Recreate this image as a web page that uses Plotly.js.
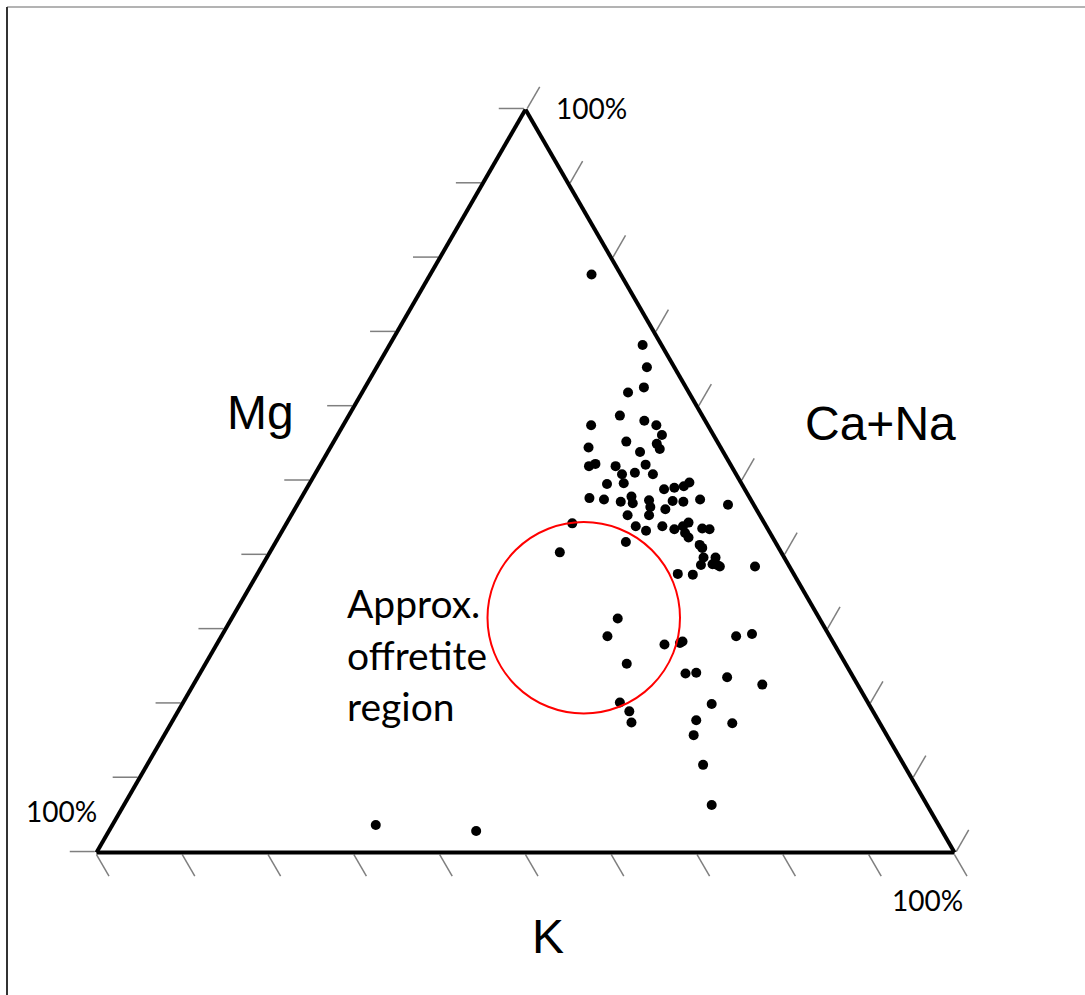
<!DOCTYPE html>
<html>
<head>
<meta charset="utf-8">
<script src="https://cdn.plot.ly/plotly-3.0.1.min.js"></script>
<style>
  html, body { margin: 0; padding: 0; background: #ffffff; }
  #chart { width: 1085px; height: 995px; }
</style>
</head>
<body>
<div id="chart"></div>
<script>
// Ternary composition (percent). a = Mg (top), b = K (bottom-left), c = Ca+Na (bottom-right)
const mg = [77.8,68.3,65.3,61.9,62.6,58.8,57.5,58.1,57.5,56.2,54.5,55.3,55.0,54.3,53.9,52.0,52.3,52.0,52.2,51.1,50.9,50.9,49.7,49.6,48.9,49.1,49.3,49.8,47.7,47.5,47.2,47.9,47.0,47.4,46.5,47.3,47.2,47.5,46.8,46.2,45.4,45.4,44.3,43.9,43.3,43.9,43.5,43.9,44.4,43.0,42.4,43.6,43.5,41.4,41.0,41.8,40.4,39.7,39.7,38.7,38.8,38.5,38.7,38.5,37.5,37.4,31.5,29.1,28.0,28.2,28.4,29.1,29.4,25.4,24.1,24.2,23.6,22.6,20.2,19.0,17.5,20.0,17.8,17.4,15.8,11.8,6.4,3.7,2.9];
const k = [3.4,2.2,3.2,7.1,4.9,9.6,13.6,7.1,6.0,6.0,15.4,10.6,7.2,7.2,9.7,16.6,15.7,13.5,9.9,11.7,9.7,13.3,13.7,15.7,9.4,8.1,6.9,6.0,18.7,17.1,15.3,13.7,14.0,11.9,12.2,9.2,8.0,5.9,3.0,10.6,12.9,15.4,22.4,15.2,14.3,12.1,10.9,9.7,8.8,9.9,9.8,7.6,6.8,9.0,8.9,17.4,25.8,9.4,8.0,10.2,8.8,8.1,8.3,4.0,13.5,11.8,23.5,25.9,19.8,17.9,17.5,10.9,8.9,25.5,19.3,18.0,14.7,11.1,28.9,28.4,28.9,18.3,21.2,17.2,22.5,23.4,25.1,65.6,54.3];
const caNa = [18.8,29.5,31.5,31.0,32.5,31.6,28.9,34.8,36.5,37.8,30.1,34.1,37.8,38.5,36.4,31.4,32.0,34.5,37.9,37.2,39.4,35.8,36.6,34.7,41.7,42.8,43.8,44.2,33.6,35.4,37.5,38.4,39.0,40.7,41.3,43.5,44.8,46.6,50.2,43.2,41.7,39.2,33.3,40.9,42.4,44.0,45.6,46.4,46.8,47.1,47.8,48.8,49.7,49.6,50.1,40.8,33.8,50.9,52.3,51.1,52.4,53.4,53.0,57.5,49.0,50.8,45.0,45.0,52.2,53.9,54.1,60.0,61.7,49.1,56.6,57.8,61.7,66.3,50.9,52.6,53.6,61.7,61.0,65.4,61.7,64.8,68.5,30.7,42.8];

const axisLabels = { left: 'Mg', right: 'Ca+Na', bottom: 'K' };
const vertexLabel = '100%';
const regionLines = ['Approx.', 'offretite', 'region'];

const W = 1085, H = 995;
const px = v => v / W;
const py = v => 1 - v / H;

const axisStyle = {
  title: { text: '' },
  min: 0,
  tick0: 0,
  dtick: 10,
  ticks: 'outside',
  ticklen: 25,
  tickwidth: 1.5,
  tickcolor: '#7f7f7f',
  showticklabels: false,
  showgrid: false,
  showline: true,
  linecolor: '#000000',
  linewidth: 4
};

const trace = {
  type: 'scatterternary',
  mode: 'markers',
  a: mg,
  b: k,
  c: caNa,
  marker: { color: '#000000', size: 10, line: { width: 0 } },
  hoverinfo: 'skip',
  cliponaxis: false
};

const armFont = { family: 'Liberation Sans, Arial, sans-serif', size: 48, color: '#000000' };
const lblFont = { family: 'Lato, Open Sans, sans-serif', size: 28, color: '#000000' };
const regFont = { family: 'Lato, Open Sans, sans-serif', size: 39, color: '#000000' };

const annotations = [
  { text: axisLabels.left, x: px(260), y: py(412), xanchor: 'center', yanchor: 'middle', font: armFont },
  { text: axisLabels.right, x: px(880), y: py(424), xanchor: 'center', yanchor: 'middle', font: armFont },
  { text: axisLabels.bottom, x: px(548), y: py(936), xanchor: 'center', yanchor: 'middle', font: armFont },
  { text: vertexLabel, x: px(591), y: py(108), xanchor: 'center', yanchor: 'middle', font: lblFont },
  { text: vertexLabel, x: px(61), y: py(811), xanchor: 'center', yanchor: 'middle', font: lblFont },
  { text: vertexLabel, x: px(927), y: py(900), xanchor: 'center', yanchor: 'middle', font: lblFont },
  { text: regionLines[0], x: px(345), y: py(603), xanchor: 'left', yanchor: 'middle', font: regFont },
  { text: regionLines[1], x: px(345), y: py(655), xanchor: 'left', yanchor: 'middle', font: regFont },
  { text: regionLines[2], x: px(345), y: py(706), xanchor: 'left', yanchor: 'middle', font: regFont }
].map(a => Object.assign({ xref: 'paper', yref: 'paper', showarrow: false }, a));

const shapes = [
  { type: 'line', xref: 'paper', yref: 'paper', x0: px(7), x1: 1, y0: py(7), y1: py(7), line: { color: '#9a9a9a', width: 1.5 } },
  { type: 'line', xref: 'paper', yref: 'paper', x0: px(7), x1: px(7), y0: py(7), y1: 0, line: { color: '#333333', width: 2 } },
  { type: 'circle', xref: 'paper', yref: 'paper', x0: px(487.5), x1: px(680), y0: py(713.5), y1: py(522), line: { color: '#ff0000', width: 2 }, layer: 'above' }
];

const layout = {
  width: W,
  height: H,
  margin: { l: 0, r: 0, t: 0, b: 0 },
  paper_bgcolor: '#ffffff',
  showlegend: false,
  hovermode: false,
  ternary: {
    sum: 100,
    domain: { x: [0.08894, 0.87972], y: [0.13468, 0.89848] },
    bgcolor: 'rgba(0,0,0,0)',
    aaxis: axisStyle,
    baxis: axisStyle,
    caxis: axisStyle
  },
  annotations: annotations,
  shapes: shapes
};

Plotly.newPlot('chart', [trace], layout, { displayModeBar: false, staticPlot: true });
</script>
</body>
</html>
